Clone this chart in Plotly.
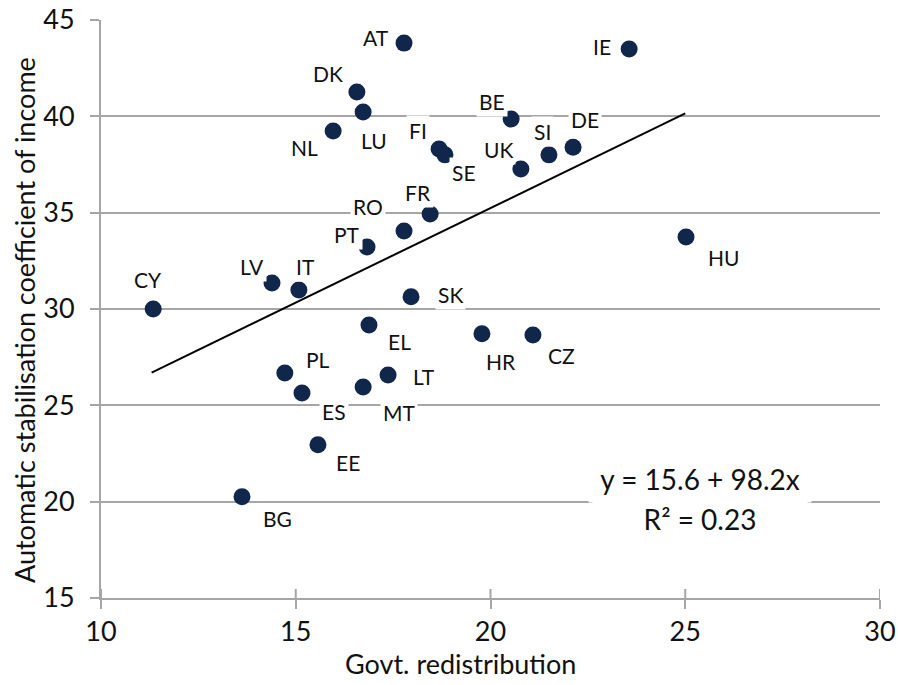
import plotly.graph_objects as go

countries = ["AT", "IE", "DK", "LU", "NL", "BE", "FI", "SE", "SI", "DE", "UK", "FR", "RO", "PT",
             "HU", "LV", "IT", "CY", "SK", "EL", "HR", "CZ", "PL", "LT", "ES", "MT", "EE", "BG"]
govt_redistribution = [17.78, 23.56, 16.57, 16.73, 15.96, 20.53, 18.68, 18.83, 21.50, 22.12, 20.78, 18.45,
                       17.78, 16.83, 25.02, 14.39, 15.08, 11.34, 17.96, 16.88, 19.78, 21.09, 14.72, 17.37,
                       15.16, 16.73, 15.57, 13.62]
stabilisation = [43.8, 43.5, 41.26, 40.23, 39.24, 39.86, 38.3, 38.0, 38.0, 38.4, 37.27, 34.93,
                 34.05, 33.22, 33.74, 31.35, 30.99, 30.0, 30.63, 29.17, 28.71, 28.65, 26.68, 26.58,
                 25.64, 25.95, 22.95, 20.25]

trend_x = [11.3, 25.0]
trend_y = [26.7, 40.15]
equation_lines = ["y = 15.6 + 98.2x", "R² = 0.23"]

x_ticks = [10, 15, 20, 25, 30]
y_ticks = [15, 20, 25, 30, 35, 40, 45]

x_title = "Govt. redistribution"
y_title = "Automatic stabilisation coefficient of income"

# label offsets in pixels (dx right, dy up)
label_offsets = {
    "AT": (-28, 6), "IE": (-27, 2), "DK": (-29, 19), "LU": (11, -29), "NL": (-29, -17),
    "BE": (-19, 18), "FI": (-21, 19), "SE": (19, -18), "SI": (-6, 23), "DE": (12, 28),
    "UK": (-22, 19), "FR": (-12, 22), "RO": (-36, 24), "PT": (-20, 12), "HU": (37, -21),
    "LV": (-20, 16), "IT": (7, 23), "CY": (-5, 30), "SK": (39, 2), "EL": (31, -17),
    "HR": (19, -28), "CZ": (29, -20), "PL": (33, 13), "LT": (36, -2), "ES": (32, -18),
    "MT": (36, -25), "EE": (30, -18), "BG": (35, -22),
}

FONT = "Lato, 'Open Sans', sans-serif"
GRID = "#A6A6A6"
TXT = "#111111"

fig = go.Figure()
fig.add_trace(go.Scatter(
    x=trend_x, y=trend_y, mode="lines",
    line=dict(color="black", width=2), hoverinfo="skip", showlegend=False))
fig.add_trace(go.Scatter(
    x=govt_redistribution, y=stabilisation, mode="markers",
    marker=dict(size=17, color="#10264A", line=dict(width=0)),
    text=countries, showlegend=False))

annotations = []
for c, xv, yv in zip(countries, govt_redistribution, stabilisation):
    dx, dy = label_offsets[c]
    annotations.append(dict(
        x=xv, y=yv, xref="x", yref="y", text=c, showarrow=False,
        xshift=dx, yshift=dy, bgcolor="white", borderpad=2,
        font=dict(family=FONT, size=21, color=TXT)))

annotations.append(dict(
    x=25.38, y=20.1, xref="x", yref="y", text=equation_lines[0], showarrow=False,
    yshift=21, bgcolor="white", borderpad=6, width=210,
    font=dict(family=FONT, size=28, color=TXT)))
annotations.append(dict(
    x=25.38, y=20.1, xref="x", yref="y", text=equation_lines[1], showarrow=False,
    yshift=-19, bgcolor="white", borderpad=2, width=210,
    font=dict(family=FONT, size=28, color=TXT)))

# axis titles (positioned like the reference)
annotations.append(dict(
    x=0.461, y=-0.114, xref="paper", yref="paper", text=x_title, showarrow=False,
    xanchor="center", yanchor="middle", font=dict(family=FONT, size=27, color=TXT)))
annotations.append(dict(
    x=-0.0975, y=0.481, xref="paper", yref="paper", text=y_title, showarrow=False,
    textangle=-90, xanchor="center", yanchor="middle",
    font=dict(family=FONT, size=27, color=TXT)))

# inner half of the crossing x tick marks
shapes = []
for t in x_ticks:
    shapes.append(dict(type="line", xref="x", yref="y", x0=t, x1=t, y0=0, y1=9,
                       ysizemode="pixel", yanchor=15, line=dict(color=GRID, width=2)))

fig.update_layout(
    width=898, height=685,
    margin=dict(l=101, r=18, t=20, b=87, autoexpand=False),
    paper_bgcolor="white", plot_bgcolor="white",
    font=dict(family=FONT, color=TXT),
    annotations=annotations,
    shapes=shapes,
    xaxis=dict(
        range=[10, 30], tickvals=x_ticks, showgrid=False, zeroline=False,
        showline=True, linecolor=GRID, linewidth=2, automargin=False,
        ticks="outside", ticklen=9, tickwidth=2, tickcolor=GRID,
        tickfont=dict(family=FONT, size=27, color=TXT)),
    yaxis=dict(
        range=[15, 45], tickvals=y_ticks, showgrid=True, gridcolor=GRID, gridwidth=2,
        zeroline=False, showline=True, linecolor=GRID, linewidth=2, automargin=False,
        ticks="outside", ticklen=9, tickwidth=2, tickcolor=GRID, ticklabelstandoff=10,
        tickfont=dict(family=FONT, size=27, color=TXT)),
)

fig.write_html("out.html")
